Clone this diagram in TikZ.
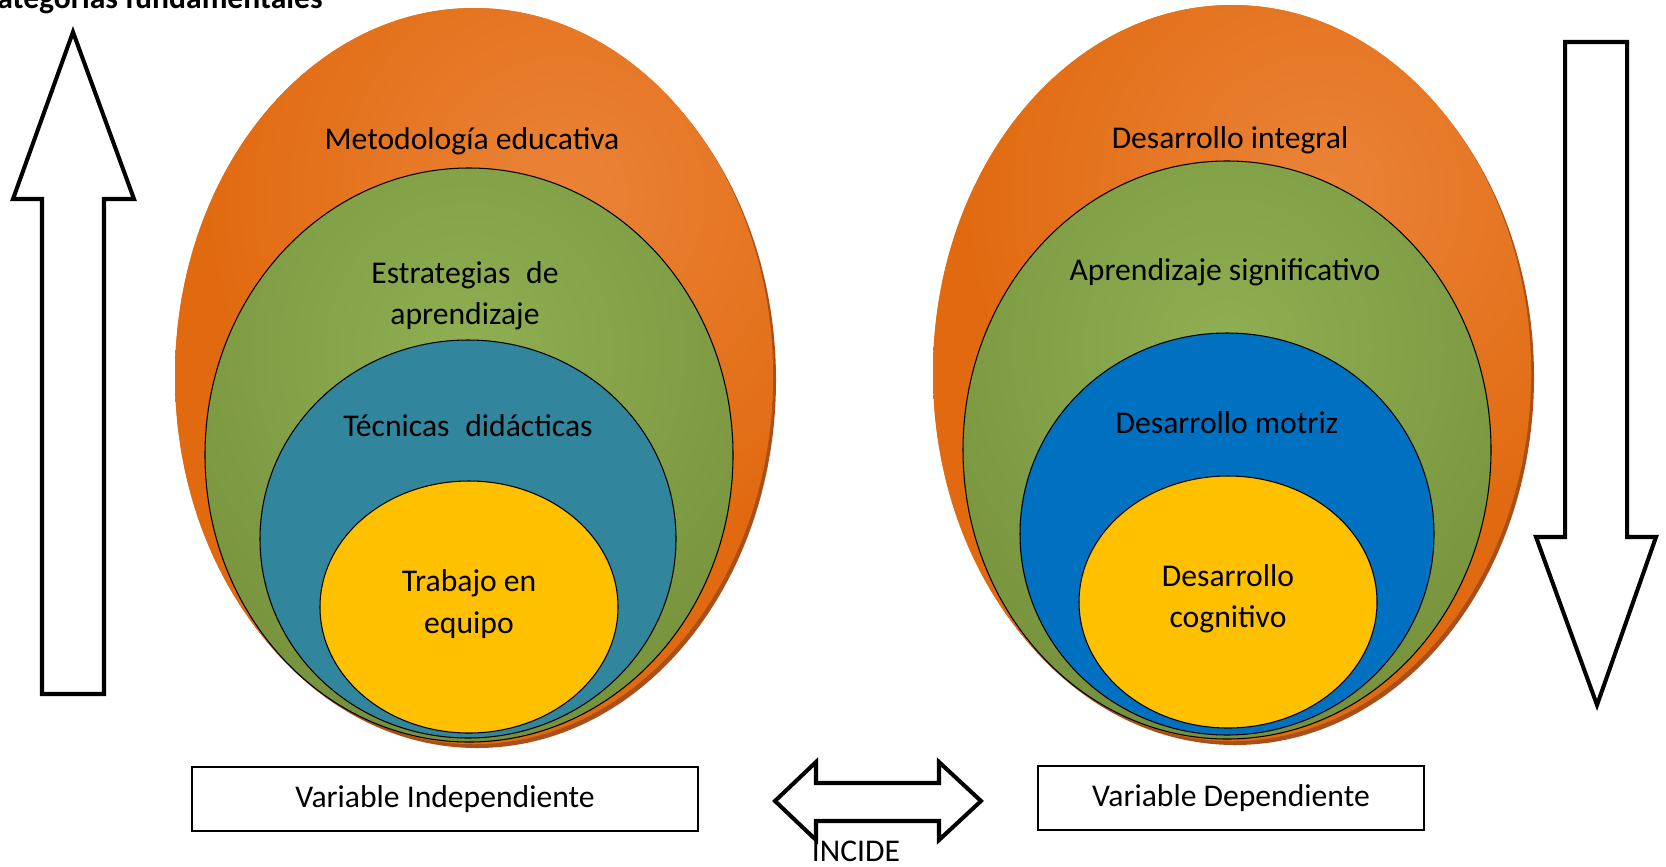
\documentclass[tikz,border=0pt]{standalone}
\usepackage{fontspec}
\setmainfont{Carlito}
\usetikzlibrary{calc}
\definecolor{naranja}{HTML}{E16A10}
\definecolor{naranjaclaro}{HTML}{EA8338}
\definecolor{sombra}{HTML}{A9501A}
\definecolor{verde}{HTML}{76923C}
\definecolor{verdeclaro}{HTML}{8FAF52}
\definecolor{azulverde}{HTML}{31859C}
\definecolor{azul}{HTML}{0070C0}
\definecolor{amarillo}{HTML}{FFC000}
\pgfdeclareradialshading{luzNaranja}{\pgfpoint{0bp}{0bp}}{color(0bp)=(naranjaclaro); color(12bp)=(naranja); color(50bp)=(naranja)}
\tikzset{
    txt/.style={font=\fontsize{18}{23.5}\selectfont, align=center, inner sep=0pt},
    capa/.style={draw=black, line width=0.6pt},
    flecha/.style={draw=black, line width=2.3pt, fill=white, line join=miter},
    caja/.style={draw=black, line width=0.8pt, minimum height=1.28cm, txt},
    brillo naranja/.style={path picture={\shade[shading=luzNaranja]
        ($(path picture bounding box.center)+(90,-180)$) circle [radius=750];}},
    brillo verde/.style={path picture={\shade[inner color=verdeclaro, outer color=verde]
        ($(path picture bounding box.center)+(0,-115)$) circle [radius=380];}}
}

\begin{document}
\begin{tikzpicture}[x=0.02cm, y=-0.02cm]
    \useasboundingbox (0,0) rectangle (1666,866);
    \clip (0,0) rectangle (1666,866);
    \fill[white] (0,0) rectangle (1666,866);
    \node[anchor=base east, font=\fontsize{18}{23.5}\selectfont\bfseries, inner sep=0pt] (titulo) at (323,8) {Categorías fundamentales};

    \fill[sombra] (477,380) ellipse [x radius=299, y radius=368];
    \fill[naranja, brillo naranja] (474,376) ellipse [x radius=299, y radius=368];
    \draw[capa, fill=verde, brillo verde] (469,455) ellipse [x radius=264, y radius=287];
    \draw[capa, fill=azulverde] (468,539) ellipse [x radius=208, y radius=199];
    \draw[capa, fill=amarillo] (469,607) ellipse [x radius=149, y radius=126];
    \node[txt] (metodo) at (472,141) {Metodología educativa};
    \node[txt] (estrat) at (465,296) {Estrategias\hspace{0.5em}de\\aprendizaje};
    \node[txt] (tecnic) at (468,426) {Técnicas\hspace{0.5em}didácticas};
    \node[txt] (trabajo) at (469,604) {Trabajo en\\equipo};

    \fill[sombra] (1235,377) ellipse [x radius=299, y radius=368];
    \fill[naranja, brillo naranja] (1232,373) ellipse [x radius=299, y radius=368];
    \draw[capa, fill=verde, brillo verde] (1227,450) ellipse [x radius=264, y radius=289];
    \draw[capa, fill=azul] (1227,534) ellipse [x radius=207, y radius=201];
    \draw[capa, fill=amarillo] (1228,602) ellipse [x radius=149, y radius=126];
    \node[txt] (integral) at (1230,140) {Desarrollo integral};
    \node[txt] (signif) at (1225,272) {Aprendizaje significativo};
    \node[txt] (motriz) at (1227,423) {Desarrollo motriz};
    \node[txt] (cognit) at (1228,599) {Desarrollo\\cognitivo};

    \draw[flecha] (42,694) -- (42,199) -- (13,199) -- (73,32) -- (134,199) -- (104,199) -- (104,694) -- cycle;
    \draw[flecha] (1565,42) -- (1627,42) -- (1627,537) -- (1656,537) -- (1597,705) -- (1536,537) -- (1565,537) -- cycle;

    \node[caja, minimum width=10.12cm] (vi) at (445,799) {Variable Independiente};
    \node[caja, minimum width=7.72cm] (vd) at (1231,798) {Variable Dependiente};
    \draw[flecha] (775,801) -- (816,762) -- (816,783) -- (939,783) -- (939,762) -- (981,801)
        -- (939,840) -- (939,821) -- (816,821) -- (816,840) -- cycle;
    \node[txt, anchor=base] (incide) at (856,861) {INCIDE};
\end{tikzpicture}
\end{document}
